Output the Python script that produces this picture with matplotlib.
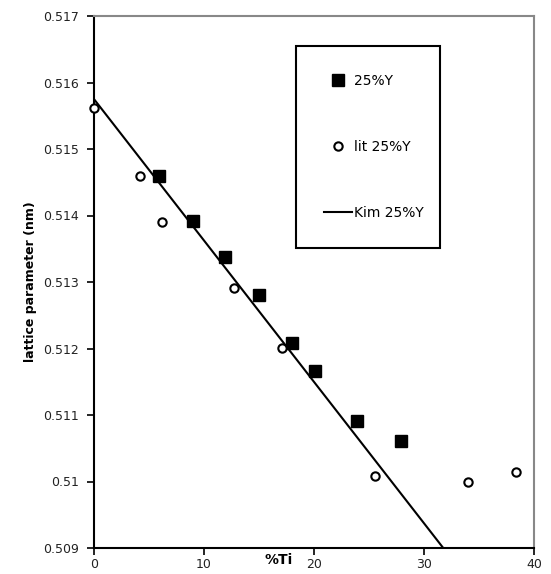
import matplotlib
matplotlib.use("Agg")
from matplotlib import pyplot as plt
from matplotlib.ticker import FixedLocator, FixedFormatter

# measured 25%Y samples
ti_meas = [5.9, 9.0, 11.9, 15.0, 18.0, 20.1, 23.9, 27.9]
a_meas = [0.51460, 0.51391, 0.51338, 0.51280, 0.51209, 0.51166, 0.51091, 0.51061]

# literature 25%Y
ti_lit = [0.0, 4.2, 6.2, 12.7, 17.1, 25.5, 34.0, 38.4]
a_lit = [0.51562, 0.51459, 0.51390, 0.51291, 0.51201, 0.51008, 0.50999, 0.51014]

# Kim fit line (end points)
ti_kim = [0.0, 31.75]
a_kim = [0.51575, 0.50900]

y_ticks = [0.509, 0.510, 0.511, 0.512, 0.513, 0.514, 0.515, 0.516, 0.517]
y_labels = ["0.509", "0.51", "0.511", "0.512", "0.513", "0.514", "0.515", "0.516", "0.517"]
x_ticks = [0, 10, 20, 30, 40]

plt.rcParams['font.family'] = ['DejaVu Sans']

fig = plt.figure(figsize=(5.51, 5.74), dpi=100)
ax = fig.add_axes([94 / 551, 26 / 574, 440 / 551, 532 / 574])

ax.plot(ti_meas, a_meas, linestyle="none", marker="s", markersize=8,
		color="black", label="25%Y", clip_on=False, zorder=3)
ax.plot(ti_lit, a_lit, linestyle="none", marker="o", markersize=6,
		markerfacecolor="white", markeredgecolor="black", markeredgewidth=1.5,
		label="lit 25%Y", clip_on=False, zorder=3)
ax.plot(ti_kim, a_kim, color="black", linewidth=1.5, label="Kim 25%Y")

ax.set_xlim(0, 40)
ax.set_ylim(0.509, 0.517)
ax.xaxis.set_major_locator(FixedLocator(x_ticks))
ax.yaxis.set_major_locator(FixedLocator(y_ticks))
ax.yaxis.set_major_formatter(FixedFormatter(y_labels))
ax.tick_params(direction="out", length=5, width=1.2, labelsize=9,
			   labelcolor="#222222")
ax.tick_params(axis="y", pad=6)
ax.tick_params(axis="x", pad=2.5)

for side in ("left", "bottom"):
	ax.spines[side].set_linewidth(1.5)
	ax.spines[side].set_color("black")
for side in ("top", "right"):
	ax.spines[side].set_linewidth(1.5)
	ax.spines[side].set_color("#888888")

ax.set_ylabel("lattice parameter (nm)", fontsize=9, fontweight="bold")
ax.yaxis.set_label_coords(-0.13, 0.5)
ax.set_xlabel("%Ti", fontsize=10, fontweight="bold")
ax.xaxis.set_label_coords(0.42, -0.010)

leg = ax.legend(loc="upper left",
				bbox_to_anchor=(202 / 440, 299 / 532, 144 / 440, 203 / 532),
				mode="expand", fontsize=10, fancybox=False, framealpha=1,
				edgecolor="black", borderpad=2.0, labelspacing=3.75,
				handlelength=2.0, handletextpad=0.15, borderaxespad=0)
leg.get_frame().set_linewidth(1.5)

fig.savefig("out.png", dpi=100)
